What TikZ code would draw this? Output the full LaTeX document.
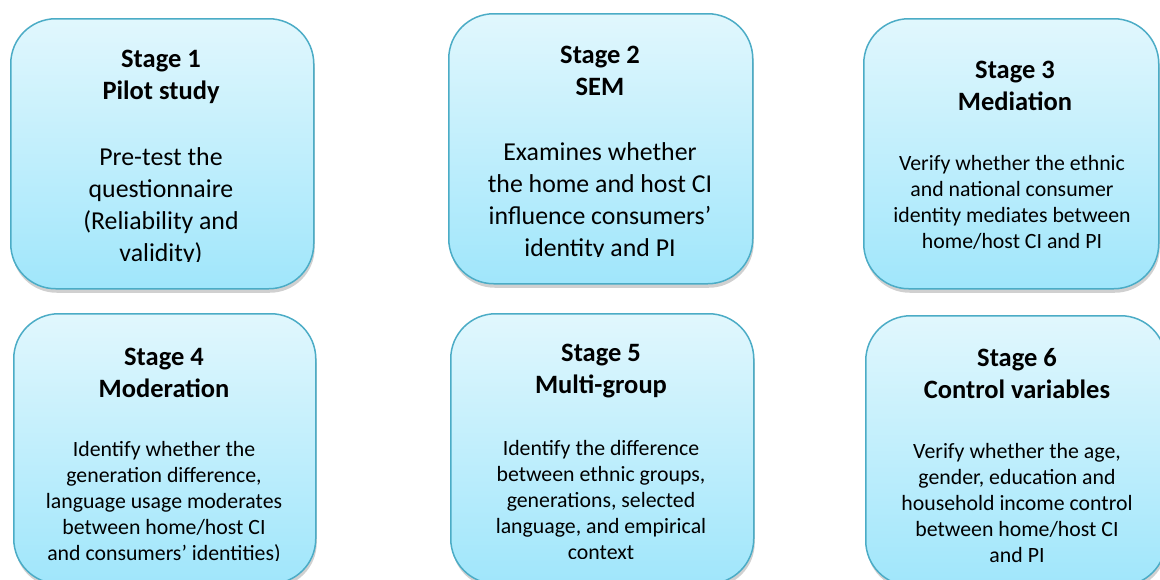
\documentclass[tikz,border=0pt]{standalone}
\usepackage{fontspec}
\setmainfont{Carlito}
\usetikzlibrary{shadows}
\definecolor{boxtop}{RGB}{225,247,253}
\definecolor{boxbot}{RGB}{160,230,251}
\definecolor{boxline}{RGB}{75,172,198}
\tikzset{
  stagebox/.style={draw=boxline, line width=1.5pt, rounded corners=45pt,
    top color=boxtop, bottom color=boxbot, inner sep=0pt, anchor=north west,
    drop shadow={shadow xshift=1pt,shadow yshift=-4pt,opacity=0.3,fill=black!60}},
  titletext/.style={anchor=base, align=center, inner sep=0pt,
    font=\fontsize{26.5}{32}\selectfont\bfseries},
  bigtext/.style={anchor=base, align=center, inner sep=0pt,
    font=\fontsize{25.8}{32}\selectfont},
  smalltext/.style={anchor=base, align=center, inner sep=0pt,
    font=\fontsize{21.8}{25.8}\selectfont},
}
\begin{document}
\begin{tikzpicture}[x=1pt,y=-1pt]
\clip (0,0) rectangle (1160,579);
\fill[white] (0,0) rectangle (1160,579);
% boxes
\node[stagebox, minimum width=303pt, minimum height=270pt] (s1) at (10,18) {};
\node[stagebox, minimum width=304pt, minimum height=270pt] (s2) at (448,13) {};
\node[stagebox, minimum width=295pt, minimum height=270pt] (s3) at (863,18) {};
\node[stagebox, minimum width=302pt, minimum height=270pt] (s4) at (13,313) {};
\node[stagebox, minimum width=303pt, minimum height=270pt] (s5) at (450,313) {};
\node[stagebox, minimum width=300pt, minimum height=270pt] (s6) at (865,315) {};
% (anchor=base gives the baseline of the last line)
% stage 1
\begin{scope}
\clip (10,18) rectangle (313,261);
\node[titletext] (t1) at (161,99) {Stage 1\\Pilot study};
\node[bigtext] (d1) at (161,261) {Pre-test the\\questionnaire\\(Reliability and\\validity)};
\end{scope}
% stage 2
\begin{scope}
\clip (448,13) rectangle (752,256);
\node[titletext] (t2) at (600,95) {Stage 2\\SEM};
\node[bigtext] (d2) at (600,256) {Examines whether\\the home and host CI\\influence consumers'\\identity and PI};
\end{scope}
% stage 3
\node[titletext] (t3) at (1015,110) {Stage 3\\Mediation};
\node[smalltext] (d3) at (1012,248) {Verify whether the ethnic\\and national consumer\\identity mediates between\\home/host CI and PI};
% stage 4
\begin{scope}
\clip (13,313) rectangle (315,560);
\node[titletext] (t4) at (164,397) {Stage 4\\Moderation};
\node[smalltext] (d4) at (164,560) {Identify whether the\\generation difference,\\language usage moderates\\between home/host CI\\and consumers’ identities)};
\end{scope}
% stage 5
\begin{scope}
\clip (450,313) rectangle (753,558.5);
\node[titletext] (t5) at (601,393) {Stage 5\\Multi-group};
\node[smalltext] (d5) at (601,559) {Identify the difference\\between ethnic groups,\\generations, selected\\language, and empirical\\context};
\end{scope}
% stage 6
\begin{scope}
\clip (865,315) rectangle (1160,562);
\node[titletext] (t6) at (1017,398) {Stage 6\\Control variables};
\node[smalltext] (d6) at (1017,562) {Verify whether the age,\\gender, education and\\household income control\\between home/host CI\\and PI};
\end{scope}
\end{tikzpicture}
\end{document}
